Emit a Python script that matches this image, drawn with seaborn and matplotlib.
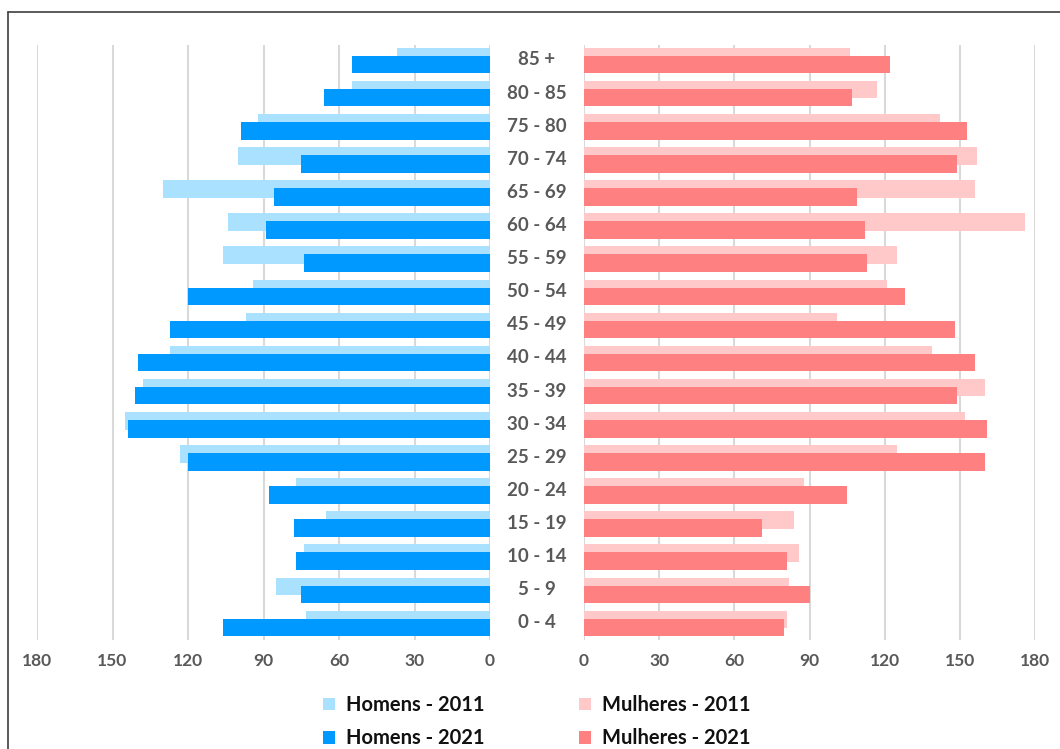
import matplotlib
matplotlib.use("Agg")
import matplotlib.pyplot as plt
import matplotlib.transforms as mtransforms
from matplotlib.lines import Line2D
from matplotlib.patches import Patch
import numpy as np
import pandas as pd
import seaborn as sns

# Age groups, oldest at the top
faixas = ["85 +", "80 - 85", "75 - 80", "70 - 74", "65 - 69", "60 - 64",
          "55 - 59", "50 - 54", "45 - 49", "40 - 44", "35 - 39", "30 - 34",
          "25 - 29", "20 - 24", "15 - 19", "10 - 14", "5 - 9", "0 - 4"]

homens_2011 = [37, 55, 92, 100, 130, 104, 106, 94, 97, 127, 138, 145, 123, 77, 65, 74, 85, 73]
homens_2021 = [55, 66, 99, 75, 86, 89, 74, 120, 127, 140, 141, 144, 120, 88, 78, 77, 75, 106]
mulheres_2011 = [106, 117, 142, 157, 156, 176, 125, 121, 101, 139, 160, 152, 125, 88, 84, 86, 82, 81]
mulheres_2021 = [122, 107, 153, 149, 109, 112, 113, 128, 148, 156, 149, 161, 160, 105, 71, 81, 90, 80]

ticks = [0, 30, 60, 90, 120, 150, 180]

cores = {
    "Homens - 2011": "#A9E1FF",
    "Homens - 2021": "#0099FF",
    "Mulheres - 2011": "#FFC9C9",
    "Mulheres - 2021": "#FF8080",
}

sns.set_theme(style="white")
plt.rcParams["font.family"] = ["Lato", "DejaVu Sans"]

W, H = 1060, 749
fig = plt.figure(figsize=(W / 100, H / 100), dpi=100)
fig.patch.set_facecolor("white")

y_top_px, y_bot_px = 45, 640
bottom = 1 - y_bot_px / H
height = (y_bot_px - y_top_px) / H
ax_l = fig.add_axes([37 / W, bottom, (490 - 37) / W, height])
ax_r = fig.add_axes([584 / W, bottom, (1035 - 584) / W, height])

pos = np.arange(len(faixas))
off_old, off_new, bar_h = -0.07, 0.17, 0.53


def desenha(ax, v2011, v2021, k2011, k2021):
    df_old = pd.DataFrame({"valor": v2011, "pos": pos + off_old})
    df_new = pd.DataFrame({"valor": v2021, "pos": pos + off_new})
    sns.barplot(data=df_old, x="valor", y="pos", orient="h", native_scale=True,
                width=bar_h, color=cores[k2011], saturation=1, linewidth=0,
                edgecolor="none", ax=ax, zorder=2)
    sns.barplot(data=df_new, x="valor", y="pos", orient="h", native_scale=True,
                width=bar_h, color=cores[k2021], saturation=1, linewidth=0,
                edgecolor="none", ax=ax, zorder=3)
    ax.set_ylim(17.55, -0.42)
    ax.set_yticks([])
    ax.set_xlabel("")
    ax.set_ylabel("")
    ax.set_xticks(ticks)
    ax.set_xticklabels([str(t) for t in ticks])
    ax.tick_params(axis="x", length=0, pad=9, labelsize=12.5, labelcolor="#595959")
    for lab in ax.get_xticklabels():
        lab.set_fontweight("bold")
    ax.grid(axis="x", color="#D9D9D9", linewidth=1.5, zorder=0)
    ax.grid(axis="y", visible=False)
    ax.set_axisbelow(True)
    for s in ax.spines.values():
        s.set_visible(False)
    ax.set_facecolor("none")


desenha(ax_l, homens_2011, homens_2021, "Homens - 2011", "Homens - 2021")
ax_l.set_xlim(180, 0)
desenha(ax_r, mulheres_2011, mulheres_2021, "Mulheres - 2011", "Mulheres - 2021")
ax_r.set_xlim(0, 180)

# Age group labels in the gap between the two halves
trans = mtransforms.blended_transform_factory(fig.transFigure, ax_l.transData)
for i, faixa in enumerate(faixas):
    fig.text(537 / W, i + 0.03, faixa, transform=trans, ha="center", va="center",
             fontsize=13.5, fontweight="bold", color="#595959")

# Legend
handles = [Patch(facecolor=cores[k], edgecolor="none", label=k)
           for k in ["Homens - 2011", "Homens - 2021", "Mulheres - 2011", "Mulheres - 2021"]]
leg = fig.legend(handles=handles, ncol=2, loc="upper left",
                 bbox_to_anchor=(323 / W, 1 - 695 / H), frameon=False,
                 prop={"weight": "bold", "size": 14.5},
                 handlelength=0.6, handleheight=0.6, handletextpad=0.55,
                 columnspacing=4.7, labelspacing=0.66, borderpad=0,
                 borderaxespad=0)
for t in leg.get_texts():
    t.set_color("#111111")

# Frame lines on the left and top edges
fig.add_artist(Line2D([8 / W, 8 / W], [0, 1 - 11.5 / H], transform=fig.transFigure,
                      color="#404040", linewidth=1.2))
fig.add_artist(Line2D([8 / W, 1], [1 - 11.5 / H, 1 - 11.5 / H], transform=fig.transFigure,
                      color="#404040", linewidth=1.2))

fig.savefig("out.png", dpi=100, facecolor="white")
